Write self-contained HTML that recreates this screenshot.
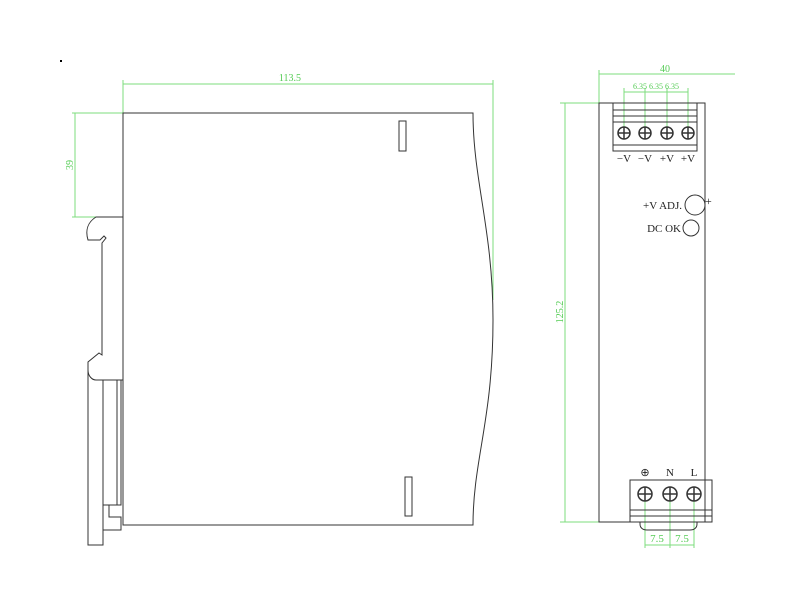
<!DOCTYPE html>
<html><head><style>body{margin:0;background:#fff}svg{display:block}</style></head><body>
<svg width="800" height="600" viewBox="0 0 800 600" xmlns="http://www.w3.org/2000/svg" font-family="Liberation Serif, serif">
<rect width="800" height="600" fill="#fff"/>
<rect x="60" y="60" width="2" height="2" fill="#000"/>
<g stroke="#7ddc7d" stroke-width="1" fill="none">
<line x1="123" y1="84" x2="493" y2="84"/><line x1="123" y1="80" x2="123" y2="113"/><line x1="493" y1="80" x2="493" y2="300"/>
<line x1="75" y1="113" x2="75" y2="217"/><line x1="72" y1="113" x2="123" y2="113"/><line x1="72" y1="217" x2="123" y2="217"/>
<line x1="599" y1="74" x2="735" y2="74"/><line x1="599" y1="70" x2="599" y2="103"/>
<line x1="624" y1="92" x2="688" y2="92"/>
<line x1="624" y1="88" x2="624" y2="133"/><line x1="645" y1="88" x2="645" y2="133"/><line x1="667" y1="88" x2="667" y2="133"/><line x1="688" y1="88" x2="688" y2="133"/>
<line x1="565" y1="103" x2="565" y2="522"/><line x1="560" y1="103" x2="599" y2="103"/><line x1="560" y1="522" x2="599" y2="522"/>
<line x1="645" y1="494" x2="645" y2="548"/><line x1="670" y1="494" x2="670" y2="548"/><line x1="694" y1="494" x2="694" y2="548"/>
<line x1="645" y1="545" x2="694" y2="545"/>
</g>
<g fill="#5c5" font-size="10">
<text x="290" y="81" text-anchor="middle">113.5</text>
<text x="665" y="72" text-anchor="middle">40</text>
<text x="656" y="89" text-anchor="middle" font-size="8">6.35 6.35 6.35</text>
<text transform="translate(73,165) rotate(-90)" text-anchor="middle">39</text>
<text transform="translate(563,312) rotate(-90)" text-anchor="middle">125.2</text>
<text x="657" y="542" text-anchor="middle" font-size="11">7.5</text>
<text x="682" y="542" text-anchor="middle" font-size="11">7.5</text>
</g>
<g stroke="#333" stroke-width="1" fill="none">
<path d="M123 113 H473 C473 180 493 230 493 320 C493 420 473 460 473 525 H123 Z"/>
<rect x="399" y="121" width="7" height="30"/><rect x="405" y="477" width="7" height="39"/>
<path d="M123 217 H96 C88 222 85 230 88 240 H100 L104 236 L106 238 L102 243 V355 L99 353 L88 362 V370 C88 376 92 380 96 380 H123"/>
<path d="M88 370 V545 H103 V380"/><path d="M103 380 V505 H121 V380 M117 380 V505"/>
<path d="M109 505 V517 H121 V530 H103"/>
<rect x="599" y="103" width="106" height="419"/>
<rect x="613" y="103" width="84" height="48"/><line x1="613" y1="110" x2="697" y2="110"/><line x1="613" y1="116" x2="697" y2="116"/><line x1="613" y1="122" x2="697" y2="122"/><line x1="613" y1="145" x2="697" y2="145"/>
<circle cx="695" cy="205" r="10"/><circle cx="691" cy="228" r="8"/>
<rect x="630" y="480" width="82" height="42"/><line x1="630" y1="510" x2="712" y2="510"/><line x1="630" y1="516" x2="712" y2="516"/>
<path d="M640 522 V524 C640 528 643 530 647 530 H690 C694 530 697 528 697 524 V522"/>
</g>
<g stroke="#333" stroke-width="1.5" fill="none">
<circle cx="624" cy="133" r="6"/><circle cx="645" cy="133" r="6"/><circle cx="667" cy="133" r="6"/><circle cx="688" cy="133" r="6"/>
<path d="M618 133 H630 M624 127 V139 M639 133 H651 M645 127 V139 M661 133 H673 M667 127 V139 M682 133 H694 M688 127 V139"/>
<circle cx="645" cy="494" r="7"/><circle cx="670" cy="494" r="7"/><circle cx="694" cy="494" r="7"/>
<path d="M638 494 H652 M645 487 V501 M663 494 H677 M670 487 V501 M687 494 H701 M694 487 V501"/>
</g>
<g fill="#222" font-size="11">
<text x="624" y="162" text-anchor="middle">−V</text><text x="645" y="162" text-anchor="middle">−V</text>
<text x="667" y="162" text-anchor="middle">+V</text><text x="688" y="162" text-anchor="middle">+V</text>
<text x="682" y="209" text-anchor="end">+V ADJ.</text><text x="705" y="205" font-size="12">+</text>
<text x="681" y="232" text-anchor="end">DC OK</text>
<text x="645" y="476" text-anchor="middle">⊕</text><text x="670" y="476" text-anchor="middle">N</text><text x="694" y="476" text-anchor="middle">L</text>
</g>
</svg>
</body></html>
